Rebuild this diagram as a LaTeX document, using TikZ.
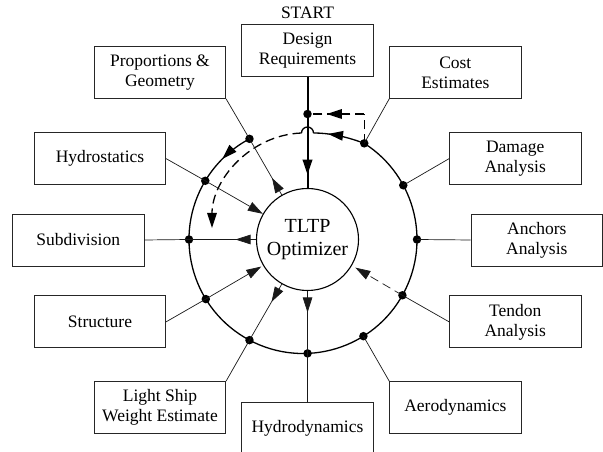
\documentclass[tikz,border=0pt]{standalone}
\usepackage{fontspec}
\setmainfont{Liberation Serif}
\usetikzlibrary{arrows.meta,calc,decorations.markings}
\begin{document}
\begin{tikzpicture}[x=1pt,y=1pt,
  box/.style={draw=black!85, line width=0.8pt, minimum width=131.4pt, minimum height=52pt,
    align=center, inner sep=0pt, font=\fontsize{17.5}{20}\selectfont},
  spoke/.style={draw=black!90, line width=0.7pt},
  ring/.style={line width=1.3pt},
  dotnode/.style={circle, fill=black, inner sep=0pt, minimum size=8.5pt},
  tipend/.style={-{Triangle[length=15pt,width=9.5pt]}},
  fbdash/.style={dash pattern=on 9pt off 5pt},
  midarrow/.style={postaction={decorate}, decoration={markings,
    mark=at position #1 with {\arrow{Triangle[length=15pt,width=9.5pt]}}}},
]
\clip (0,0) rectangle (603,452);

% boxes
\node[inner sep=0pt, font=\fontsize{17.5}{20}\selectfont] (start) at (307.5,438.8) {START};
\node[box] (dr) at (307.5,401.15) {Design\\Requirements};
\node[box] (prop) at (160,379.5) {Proportions \&\\Geometry};
\node[box] (cost) at (455.3,379.5) {Cost\\Estimates};
\node[box] (hst) at (100,293.35) {Hydrostatics};
\node[box] (dmg) at (515.2,293.35) {Damage\\Analysis};
\node[box] (sub) at (78.2,212) {Subdivision};
\node[box] (anc) at (536.8,212) {Anchors\\Analysis};
\node[box] (str) at (100,130.15) {Structure};
\node[box] (ten) at (515.2,130.15) {Tendon\\Analysis};
\node[box] (lsw) at (160,44.5) {Light Ship\\Weight Estimate};
\node[box] (aer) at (455.3,44.5) {Aerodynamics};
\node[box] (hyd) at (307.5,23.3) {Hydrodynamics};

% optimizer
\node[circle, draw, line width=1.1pt, minimum size=102pt, inner sep=0pt, align=center,
  font=\fontsize{20}{23.3}\selectfont] (opt) at (307.5,212.5) {TLTP\\Optimizer};

% dots on the ring
\coordinate (O) at (303,212.5);
\node[dotnode] (dp) at ($(O)+(118:114)$) {};
\node[dotnode] (dh) at ($(O)+(149:114)$) {};
\node[dotnode] (ds) at ($(O)+(180:114)$) {};
\node[dotnode] (dst) at ($(O)+(211.5:114)$) {};
\node[dotnode] (dl) at ($(O)+(242:114)$) {};
\node[dotnode] (dhy) at ($(O)+(272.3:114)$) {};
\node[dotnode] (da) at ($(O)+(302:114)$) {};
\node[dotnode] (dt) at ($(O)+(330.7:114)$) {};
\node[dotnode] (dan) at ($(O)+(0:114)$) {};
\node[dotnode] (dd) at ($(O)+(28.4:114)$) {};
\node[dotnode] (dc) at ($(O)+(57.5:114)$) {};
\node[dotnode] (tdot) at (307.5,338) {};

% ring
\draw[ring, midarrow=0.55] (dp.center) arc[start angle=118, end angle=149, radius=114];
\draw[ring] (dh.center) arc[start angle=149, end angle=417.5, radius=114];
\draw[ring, midarrow=0.72] (dc.center) .. controls (345,316) and (328,319) .. (313.5,319);
\draw[ring] (313.5,319) arc[start angle=0, end angle=180, radius=6];
\draw[ring, fbdash, tipend] (301.5,319) .. controls (250,317) and (212,272) .. (212,224);

% feedback from cost
\coordinate (fc) at (dc |- tdot);
\draw[ring, fbdash] (dc.center) -- (fc);
\draw[ring, fbdash, midarrow=0.66] (fc) -- (tdot.center);

% main input
\draw[line width=2pt, midarrow=0.88] (dr.south) -- (opt.north);

% spokes
\draw[spoke] (prop.south east) -- (dp.center) -- (opt);
\draw[spoke, tipend] ($(opt.center)!56pt!(dp.center)$) -- ($(opt.center)!71pt!(dp.center)$);

\draw[spoke] (hst.east) -- (dh.center);
\draw[spoke, tipend] (dh.center) -- (opt);

\draw[spoke] (sub.east) -- (ds.center) -- (opt);
\draw[spoke, tipend] ($(opt.center)!56pt!(ds.center)$) -- ($(opt.center)!72pt!(ds.center)$);

\draw[spoke] (str.east) -- (dst.center);
\draw[spoke, tipend, shorten >=2pt] (dst.center) -- (opt);

\draw[spoke] (lsw.north east) -- (dl.center) -- (opt);
\draw[spoke, tipend] ($(opt.center)!56pt!(dl.center)$) -- ($(opt.center)!72pt!(dl.center)$);

\draw[spoke] (hyd.north) -- (dhy.center) -- (opt);
\draw[spoke, tipend] ($(opt.center)!56pt!(dhy.center)$) -- ($(opt.center)!73pt!(dhy.center)$);

\draw[spoke] (aer.north west) -- (da.center);
\draw[spoke] (ten.west) -- (dt.center);
\draw[spoke, fbdash, tipend, shorten >=4pt] (dt.center) -- (opt);
\draw[spoke] (anc.west) -- (dan.center);
\draw[spoke] (dmg.west) -- (dd.center);
\draw[spoke] (cost.south west) -- (dc.center);
\end{tikzpicture}
\end{document}
